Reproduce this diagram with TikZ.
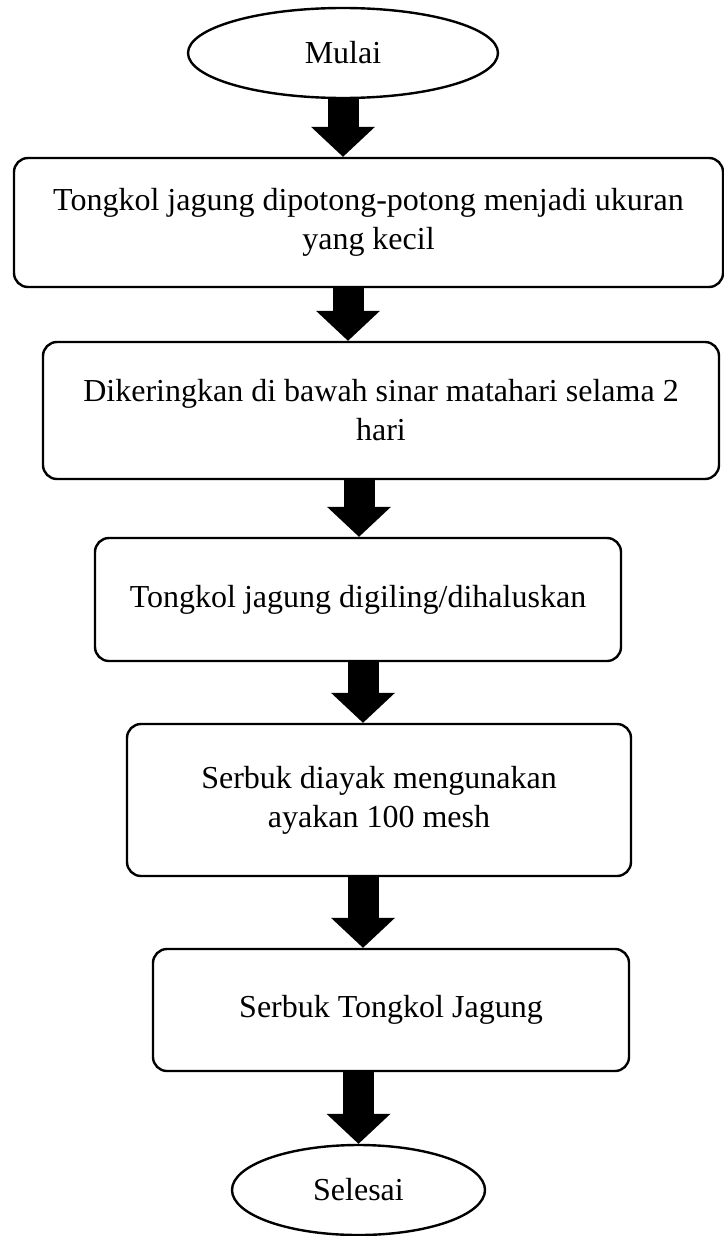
\documentclass[tikz,border=0pt]{standalone}
\usepackage{fontspec}
\setmainfont{Liberation Serif}
\usetikzlibrary{shapes.geometric,arrows.meta}
\begin{document}
\begin{tikzpicture}[
	x=0.5pt, y=-0.5pt,
	line width=1.2pt,
	font=\fontsize{16}{19.5}\selectfont
]
\tikzset{
    terminal/.style = {ellipse, draw=black, inner sep=0pt, align=center, fill=white},
    process/.style = {rectangle, rounded corners=7pt, draw=black, inner sep=0pt, align=center, fill=white},
    bigarrow/.style = {line width=15.5pt, -{Triangle[width=32pt,length=15pt,line width=0pt]}},
}
\useasboundingbox (0,0) rectangle (723,1236);
\node[terminal, minimum width=155pt, minimum height=45pt] at (343,53) (mulai) {Mulai};
\node[process, minimum width=354.5pt, minimum height=64.5pt] at (368.5,222.5) (potong) {Tongkol jagung dipotong-potong menjadi ukuran\\yang kecil};
\node[process, minimum width=338pt, minimum height=68.5pt] at (381,410.5) (kering) {Dikeringkan di bawah sinar matahari selama 2\\hari};
\node[process, minimum width=263pt, minimum height=61.5pt] at (358,599.5) (giling) {Tongkol jagung digiling/dihaluskan};
\node[process, minimum width=252pt, minimum height=76pt] at (379,800) (ayak) {Serbuk diayak mengunakan\\ayakan 100 mesh};
\node[process, minimum width=238pt, minimum height=61pt] at (391,1010) (serbuk) {Serbuk Tongkol Jagung};
\node[terminal, minimum width=126.5pt, minimum height=45pt] at (358.5,1190) (selesai) {Selesai};
%
\coordinate (a2) at ([xshift=-10.25pt]potong.south);
\coordinate (a3) at ([xshift=-11pt]kering.south);
\coordinate (a4) at ([xshift=2.5pt]giling.south);
\coordinate (a5) at ([xshift=-8pt]ayak.south);
%
\draw[bigarrow] (mulai.south) -- (mulai.south |- potong.north);
\draw[bigarrow] (a2) -- (a2 |- kering.north);
\draw[bigarrow] (a3) -- (a3 |- giling.north);
\draw[bigarrow] (a4) -- (a4 |- ayak.north);
\draw[bigarrow] (a5) -- (a5 |- serbuk.north);
\draw[bigarrow] (selesai.north |- serbuk.south) -- (selesai.north);
\end{tikzpicture}
\end{document}
